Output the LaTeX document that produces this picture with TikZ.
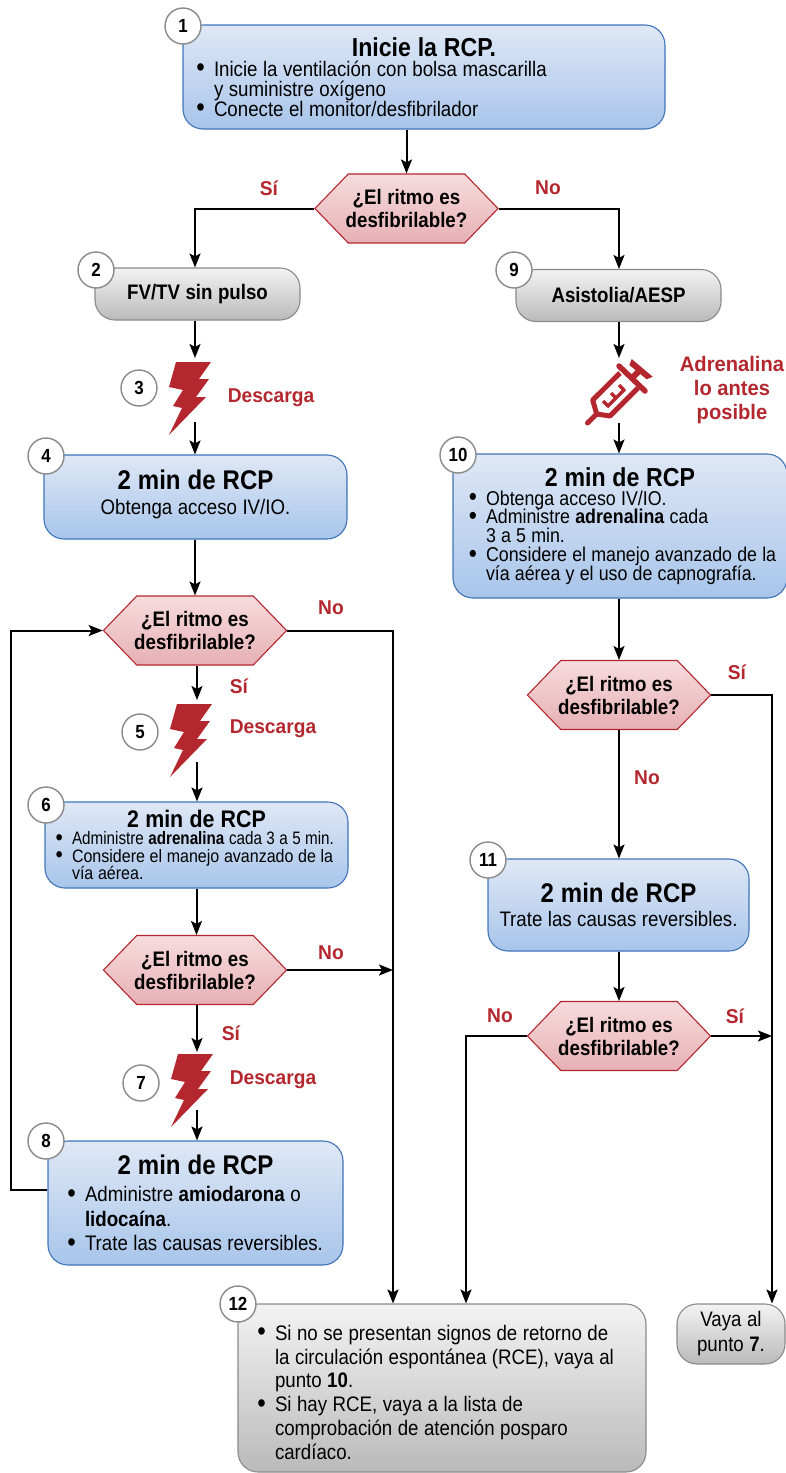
\documentclass[tikz,border=0pt]{standalone}
\usepackage{fontspec}
\usetikzlibrary{arrows.meta,shapes.symbols,calc}
\setmainfont{Liberation Sans}[FakeStretch=0.89,BoldFont={Liberation Sans Bold},BoldFeatures={FakeStretch=0.89}]
\newfontfamily\redfont{Liberation Sans Bold}[FakeStretch=0.96]
\definecolor{redc}{HTML}{B5272E}
\definecolor{bluel}{HTML}{3F74B8}
\definecolor{greyl}{HTML}{8A8A8A}
\definecolor{bt}{HTML}{DFE8F6}\definecolor{bm}{HTML}{CDDCF1}\definecolor{bb}{HTML}{A8C5EA}
\definecolor{gt}{HTML}{F3F3F3}\definecolor{gm}{HTML}{E4E4E4}\definecolor{gb}{HTML}{BABABA}
\definecolor{rt}{HTML}{F7DCDD}\definecolor{rm}{HTML}{F0CDD0}\definecolor{rb}{HTML}{E6B0B5}
\newlength{\bulw}
\newcommand{\fs}[2]{\fontsize{#1}{#2}\selectfont\spaceskip=.26em plus .1em\relax}
\newcommand{\titl}[2]{{\centering\fs{#1}{#1}\bfseries #2\par}}
\newcommand{\bit}[1]{\par\noindent\hangindent=\bulw\hangafter=1\makebox[\bulw][r]{\smash{\raisebox{-.5pt}{\scalebox{1.3}{•}}}\hspace{9pt}}#1\par}
\tikzset{
 x=1pt,y=-1pt,
 bbox/.style={draw=bluel,line width=1.1pt,rounded corners=20pt,inner sep=0pt,top color=bt,middle color=bm,bottom color=bb,text=black},
 gbox/.style={draw=greyl,line width=1.1pt,rounded corners=20pt,inner sep=0pt,top color=gt,middle color=gm,bottom color=gb,text=black},
 hexa/.style={signal,signal to=west and east,signal pointer angle=92,draw=redc,line width=1.1pt,inner ysep=0pt,inner xsep=-2.5pt,minimum width=177pt,minimum height=69pt,top color=rt,middle color=rm,bottom color=rb,align=center,font=\fs{21}{23}\bfseries},
 num/.style={circle,draw=greyl,fill=white,line width=1.4pt,minimum size=36pt,inner sep=0pt,font=\fs{19}{19}\bfseries},
 lab/.style={text=redc,font=\redfont\fs{20}{24},align=center,inner sep=0pt},
 arr/.style={line width=2pt,-{Stealth[length=14pt,width=11pt,inset=3pt]}},
}
\newcommand{\bolt}[2]{\fill[redc] (#1,#2) ++(7,0) -- ++(35,0) -- ++(-12,17) -- ++(10,0) -- ++(-13,18) -- ++(10,0) -- ++(-37,38) -- ++(13,-27) -- ++(-9,-2) -- ++(10,-16) -- ++(-14,-3) -- cycle;}
\begin{document}
\begin{tikzpicture}
\useasboundingbox (0,0) rectangle (785,1473);
% boxes
\node[bbox,minimum width=482pt,minimum height=104pt,text width=458pt] (b1) at (424,77) {\setlength{\bulw}{19pt}\titl{26}{Inicie la RCP.}\fs{21}{20}\raggedright
 \bit{Inicie la ventilación con bolsa mascarilla\break y suministre oxígeno}\bit{Conecte el monitor/desfibrilador}};
\node[hexa] (h1) at (406.5,208.5) {¿El ritmo es\\desfibrilable?};
\node[gbox,minimum width=205pt,minimum height=52pt,font=\fs{21}{23}\bfseries] (b2) at (197.5,294) {FV/TV sin pulso};
\node[gbox,minimum width=205pt,minimum height=52pt,font=\fs{21}{23}\bfseries] (b9) at (618.5,295.5) {Asistolia/AESP};
\node[bbox,minimum width=303pt,minimum height=84pt,text width=290pt] (b4) at (195.5,497) {\titl{27}{2 min de RCP}\vspace{1pt}{\centering\fs{21}{24}Obtenga acceso IV/IO.\par}\vspace{6pt}};
\node[bbox,minimum width=334pt,minimum height=144pt,text width=318pt] (b10) at (620,526) {\setlength{\bulw}{25pt}\titl{26}{2 min de RCP}\fs{20}{18.9}\raggedright
 \bit{Obtenga acceso IV/IO.}\bit{Administre \textbf{adrenalina} cada\break 3 a 5 min.}\bit{Considere el manejo avanzado de la\break vía aérea y el uso de capnografía.}};
\node[hexa] (h2) at (195,630.5) {¿El ritmo es\\desfibrilable?};
\node[bbox,minimum width=303pt,minimum height=86pt,text width=293pt] (b6) at (196.5,845) {\setlength{\bulw}{22pt}\titl{24}{2 min de RCP}\fs{18}{17.5}\raggedright
 \bit{\scalebox{.95}[1]{Administre \textbf{adrenalina} cada 3 a 5 min.}}\bit{Considere el manejo avanzado de la\break vía aérea.}};
\node[hexa] (h3) at (195,970) {¿El ritmo es\\desfibrilable?};
\node[bbox,minimum width=295pt,minimum height=124pt,text width=275pt] (b8) at (195.5,1203) {\setlength{\bulw}{27pt}\titl{27}{2 min de RCP}\vspace{3pt}\fs{21}{24.5}\raggedright
 \bit{Administre \textbf{amiodarona} o\break\textbf{lidocaína}.}\bit{Trate las causas reversibles.}};
\node[hexa] (h4) at (619,695) {¿El ritmo es\\desfibrilable?};
\node[bbox,minimum width=261pt,minimum height=92pt,text width=250pt] (b11) at (618.5,905) {\vspace*{6pt}\titl{27}{2 min de RCP}\vspace{-6pt}{\centering\fs{21}{24}Trate las causas reversibles.\par}};
\node[hexa] (h5) at (619,1036) {¿El ritmo es\\desfibrilable?};
\node[gbox,minimum width=408pt,minimum height=168pt,text width=386pt] (b12) at (442,1388) {\setlength{\bulw}{26pt}\fs{21}{23.8}\raggedright
 \bit{Si no se presentan signos de retorno de\break la circulación espontánea (RCE), vaya al\break punto \textbf{10}.}\bit{Si hay RCE, vaya a la lista de\break comprobación de atención posparo\break cardíaco.}};
\node[gbox,minimum width=108pt,minimum height=60pt,align=center,font=\fs{21}{25}] (b7) at (731,1334) {Vaya al\\punto \textbf{7}.};
% icons
\bolt{169}{362}
\bolt{170}{704}
\bolt{171}{1054}
\draw[redc,line width=5pt,line join=round] (620,373) -- (592.7,400) -- (596.7,414) -- (610,416) -- (638,388);
\draw[redc,line width=5.5pt,line cap=round] (619,366) -- (645,391);
\draw[redc,line width=6pt] (632,378) -- (640,370);
\fill[redc] (631.7,359) -- (652.7,376.7) -- (646.7,379.3) -- (629.3,365) -- cycle;
\draw[redc,line width=5pt,line cap=round] (596.7,414) -- (587.5,423);
\draw[redc,line width=3.5pt] (607,407) -- (625,389) (608,406) -- (603,401) (616,398) -- (611,393) (624,390) -- (619,385);
% connector helpers
\coordinate (c2) at (195,268); \coordinate (bt3) at (195,358); \coordinate (bb3) at (195,422);
\coordinate (bt5) at (197,700); \coordinate (bb5) at (197,762);
\coordinate (bt7) at (197,1052); \coordinate (bb7) at (197,1110);
\coordinate (st) at (619,358); \coordinate (sb) at (619,423);
\coordinate (j1) at (393,630.5); \coordinate (j2) at (772,695);
\coordinate (j3) at (11,1190); \coordinate (j4) at (466,1036);
% connectors
\draw[arr] (h1.north |- b1.south) -- (h1.north);
\draw[arr] (h1.west) -| (c2 |- b2.north);
\draw[arr] (h1.east) -| (st |- b9.north);
\draw[arr] (bt3 |- b2.south) -- (bt3);
\draw[arr] (bb3) -- (bb3 |- b4.north);
\draw[arr] (st |- b9.south) -- (st);
\draw[arr] (sb) -- (sb |- b10.north);
\draw[arr] (h2.north |- b4.south) -- (h2.north);
\draw[arr] (bt5 |- h2.south) -- (bt5);
\draw[arr] (bb5) -- (bb5 |- b6.north);
\draw[arr] (b6.south) -- (b6.south |- h3.north);
\draw[arr] (bt7 |- h3.south) -- (bt7);
\draw[arr] (bb7) -- (bb7 |- b8.north);
\draw[arr] (h2.east) -- (j1) -- (j1 |- b12.north);
\draw[arr] (h3.east) -- (j1 |- h3.east);
\draw[arr] (b8.west |- j3) -- (j3) -- (j3 |- h2.west) -- (h2.west);
\draw[arr] (h4.north |- b10.south) -- (h4.north);
\draw[arr] (h4.south) -- (h4.south |- b11.north);
\draw[arr] (h5.north |- b11.south) -- (h5.north);
\draw[arr] (h4.east) -- (j2) -- (j2 |- b7.north);
\draw[arr] (h5.east) -- (j2 |- h5.east);
\draw[arr] (h5.west) -- (j4) -- (j4 |- b12.north);
% numbers
\node[num] (n1) at (183,26) {1};
\node[num] (n2) at (96,270) {2};
\node[num] (n9) at (514,270) {9};
\node[num] (n3) at (139,388) {3};
\node[num] (n4) at (46,456) {4};
\node[num] (n10) at (458,455) {10};
\node[num] (n5) at (140,732) {5};
\node[num] (n6) at (46,805) {6};
\node[num] (n7) at (141,1083) {7};
\node[num] (n8) at (46,1141) {8};
\node[num] (n11) at (488,860) {11};
\node[num] (n12) at (238,1304) {12};
% labels
\node[lab] (l1) at (269,188) {Sí};
\node[lab] (l2) at (548,188) {No};
\node[lab] (l3) at (271,398) {Descarga};
\node[lab,font=\redfont\fs{21}{24}] (l4) at (732,390) {Adrenalina\\lo antes\\posible};
\node[lab] (l5) at (331,608) {No};
\node[lab] (l6) at (239,686) {Sí};
\node[lab] (l7) at (273,729) {Descarga};
\node[lab] (l8) at (331,953) {No};
\node[lab] (l9) at (231,1033) {Sí};
\node[lab] (l10) at (273,1080) {Descarga};
\node[lab] (l11) at (737,672) {Sí};
\node[lab] (l12) at (647,778) {No};
\node[lab] (l13) at (500,1016) {No};
\node[lab] (l14) at (735,1016) {Sí};
\end{tikzpicture}
\end{document}
